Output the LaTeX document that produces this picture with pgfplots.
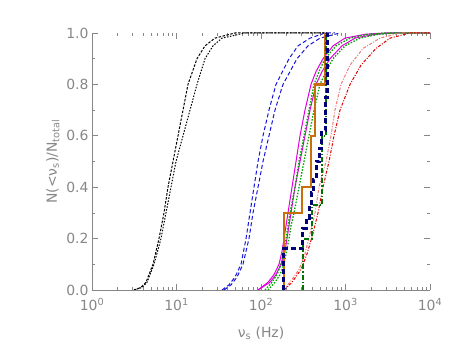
\documentclass[border=0pt]{standalone}
\usepackage{fontspec}
\setmainfont{DejaVu Sans}
\usepackage{pgfplots}
\pgfplotsset{compat=1.18}
\usetikzlibrary{calc}

\definecolor{axgray}{RGB}{135,135,135}
\definecolor{cblue}{RGB}{20,20,220}
\definecolor{cmag}{RGB}{225,0,225}
\definecolor{cgreen}{RGB}{0,165,0}
\definecolor{cdgreen}{RGB}{0,115,0}
\definecolor{cred}{RGB}{220,0,0}
\definecolor{cpink}{RGB}{240,120,120}
\definecolor{corange}{RGB}{200,110,10}
\definecolor{cnavy}{RGB}{0,0,120}

\newcommand\ff{\fontsize{14}{16}\selectfont}

\begin{document}
\begin{tikzpicture}
\begin{semilogxaxis}[
  scale only axis,
  width=338bp, height=257bp,
  xmin=1, xmax=10000, ymin=0, ymax=1,
  clip=false,
  axis line style={draw=none},
  tick align=inside,
  major tick length=6bp, minor tick length=3.5bp,
  every tick/.style={axgray, line width=0.6bp},
  xtick={1,10,100,1000,10000},
  xticklabels={10\textsuperscript{0},10\textsuperscript{1},10\textsuperscript{2},10\textsuperscript{3},10\textsuperscript{4}},
  ytick={0,0.2,0.4,0.6,0.8,1.0},
  minor ytick={0.1,0.3,0.5,0.7,0.9},
  yticklabel style={/pgf/number format/fixed, /pgf/number format/fixed zerofill,
    /pgf/number format/precision=1, /pgf/number format/assume math mode=true},
  xticklabel style={yshift=-5bp},
  tick label style={font=\ff, text=axgray},
  label style={font=\ff, text=axgray},
  xlabel style={yshift=-9bp},
  xlabel={ν\textsubscript{s} (Hz)},
  ylabel={N(<ν\textsubscript{s})/N\textsubscript{total}},
]
% black pair
\addplot[black, line width=1bp, dash pattern=on 2.5bp off 1.5bp] coordinates {
(3.14,0) (3.80,0.01) (4.36,0.03) (5.27,0.1) (6.21,0.2) (7.11,0.3) (7.93,0.4) (9.09,0.5)
(10.42,0.6) (11.94,0.7) (13.68,0.8) (17.48,0.9) (21.74,0.95) (28.55,0.98) (49.2,1) (604,1)};
\addplot[black, line width=1bp, dash pattern=on 1.5bp off 1.5bp] coordinates {
(3.14,0) (3.91,0.01) (4.48,0.03) (5.42,0.1) (6.55,0.2) (7.51,0.3) (8.61,0.4) (9.86,0.5)
(11.94,0.6) (14.45,0.7) (17.48,0.8) (21.74,0.9) (27.04,0.95) (34.55,0.98) (64.7,1) (604,1)};
% blue pair
\addplot[cblue, line width=1bp, dash pattern=on 4bp off 2.5bp] coordinates {
(34.55,0) (41.8,0.02) (49.2,0.05) (58.0,0.1) (66.5,0.2) (74.1,0.3) (82.6,0.4) (92.2,0.5)
(105.6,0.6) (124.3,0.7) (150.5,0.8) (214.5,0.9) (274.1,0.95) (380.2,0.98) (572,1) (751,1)};
\addplot[cblue, line width=1bp, dash pattern=on 4bp off 2.5bp] coordinates {
(36.5,0) (44.2,0.02) (52.0,0.05) (61.2,0.1) (72.1,0.2) (80.4,0.3) (92.2,0.4) (105.6,0.5)
(124.3,0.6) (146.4,0.7) (182.1,0.8) (266.7,0.9) (359.9,0.95) (499,0.98) (861,1)};
% magenta pair
\addplot[cmag, line width=1bp] coordinates {
(92.2,0) (121.0,0.03) (142.5,0.06) (163.3,0.1) (177.3,0.15) (187.2,0.2) (197.7,0.25) (208.7,0.3)
(232.8,0.4) (259.6,0.5) (289.4,0.6) (331.6,0.7) (390.6,0.8) (447.7,0.85) (541.7,0.9) (711.5,0.95)
(986,0.98) (1701,0.995) (2935,1) (10000,1)};
\addplot[cmag, line width=1bp] coordinates {
(92.2,0) (127.8,0.03) (150.5,0.06) (172.5,0.1) (192.3,0.15) (203.1,0.2) (214.5,0.25) (226.5,0.3)
(252.6,0.4) (289.4,0.5) (331.6,0.6) (380.2,0.7) (447.7,0.8) (527.1,0.85) (655.6,0.9) (909,0.95)
(1295,0.98) (2234,0.995) (3853,1) (10000,1)};
% green dotted pair
\addplot[cgreen, line width=1.3bp, dash pattern=on 1.5bp off 1.5bp] coordinates {
(111.5,0) (134.9,0.03) (154.6,0.06) (172.5,0.1) (197.7,0.2) (208.7,0.25) (220.4,0.3) (252.6,0.4)
(281.6,0.5) (322.8,0.6) (369.8,0.7) (423.9,0.8) (485.8,0.85) (572,0.9) (772,0.95) (1131,0.98)
(1846,0.995) (2935,1) (10000,1)};
\addplot[cgreen, line width=1.3bp, dash pattern=on 1.5bp off 1.5bp] coordinates {
(121.0,0) (146.4,0.03) (167.8,0.06) (187.2,0.1) (214.5,0.2) (226.5,0.25) (245.8,0.3) (281.6,0.4)
(322.8,0.5) (369.8,0.6) (423.9,0.7) (499.0,0.8) (587.7,0.85) (711.5,0.9) (986,0.95) (1485,0.98)
(2424,0.995) (3853,1) (10000,1)};
% red pair
\addplot[cpink, line width=1bp, dash pattern=on 3bp off 1.5bp on 1bp off 1.5bp] coordinates {
(182.1,0) (220.4,0.03) (281.6,0.08) (331.6,0.14) (380.2,0.22) (435.6,0.3) (485.8,0.4) (587.7,0.5)
(673.5,0.6) (751.1,0.7) (884.8,0.8) (1131,0.875) (1611,0.94) (2561,0.98) (4416,1) (10000,1)};
\addplot[cred, line width=1bp, dash pattern=on 3bp off 1.5bp on 1bp off 1.5bp] coordinates {
(187.2,0) (232.8,0.03) (297.4,0.08) (350.3,0.14) (412.6,0.22) (472.9,0.3) (541.7,0.4) (637.9,0.5)
(731.0,0.6) (861.3,0.7) (1131,0.8) (1526,0.875) (2296,0.94) (3362,0.98) (5799,1) (10000,1)};
% step functions
\addplot[corange, line width=2.4bp] coordinates {
(187,0) (187,0.30) (306,0.30) (306,0.40) (391,0.40) (391,0.60) (436,0.60) (436,0.80)
(572,0.80) (572,1.0)};
\addplot[cdgreen, line width=2bp, dash pattern=on 5bp off 2bp on 1.5bp off 2bp] coordinates {
(314,0) (314,0.2) (402,0.2) (402,0.33) (527,0.33) (527,0.6) (588,0.6) (588,1.0)};
\addplot[cnavy, line width=3bp, dash pattern=on 5bp off 3bp] coordinates {
(187,0) (187,0.16) (314,0.16) (314,0.24) (341,0.24) (341,0.28) (370,0.28) (370,0.33)
(391,0.33) (391,0.38) (413,0.38) (413,0.43) (448,0.43) (448,0.50) (499,0.50) (499,0.55)
(527,0.55) (527,0.62) (572,0.62) (572,0.75) (604,0.75) (604,1.0)};
\coordinate (ll) at (rel axis cs:0,0);
\coordinate (ur) at (rel axis cs:1,1);
\draw[axgray, line width=0.8bp] (rel axis cs:0,1) -- (rel axis cs:0,0) -- (rel axis cs:1,0);
\end{semilogxaxis}
\pgfresetboundingbox
\path[use as bounding box] ($(ll)+(-92bp,-64bp)$) rectangle ($(ur)+(28bp,33bp)$);
\end{tikzpicture}
\end{document}
